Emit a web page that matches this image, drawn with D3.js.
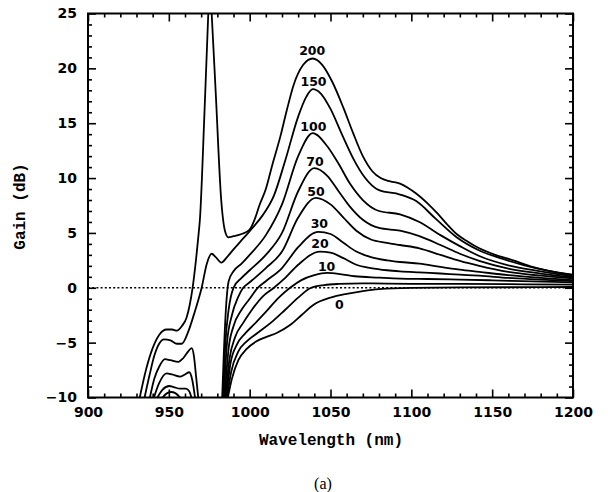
<!DOCTYPE html>
<html>
<head>
<meta charset="utf-8">
<script src="https://cdn.jsdelivr.net/npm/d3@7"></script>
<style>
  html, body { margin: 0; padding: 0; background: #fff; }
  svg { display: block; }
</style>
</head>
<body>
<svg id="chart" width="608" height="492"></svg>
<script>
// ---------------- data ----------------
const xMajorTicks = [900, 950, 1000, 1050, 1100, 1150, 1200];
const yMajorTicks = [-10, -5, 0, 5, 10, 15, 20, 25];
const xDomain = [900, 1200];
const yDomain = [-10, 25];

// gain curves: [wavelength nm, gain dB]; null gain = break in the curve
const curve200 = [[932,-10],[936,-7.4],[940,-5.5],[944,-4.3],[948.7,-3.8],[952,-3.8],[955,-3.9],[958,-3.5],[961,-2.7],[963,-1.5],[964.7,0],[968,4.3],[969.3,6.4],[972,15.8],[974.4,25],[975.3,28.3],[976.5,25],[979,17.8],[982.4,8.0],[984.7,5.2],[986.8,4.6],[990,4.7],[995,4.9],[1000,5.3],[1003,6.2],[1006,7.5],[1010,9.0],[1014,11.2],[1019,13.8],[1023,16.2],[1027,18.4],[1033,20.3],[1039,20.9],[1045,20.3],[1051,18.8],[1058,16.4],[1064,14.1],[1070,12.0],[1076,10.6],[1081,10.0],[1087,9.7],[1093,9.5],[1098,9.1],[1103,8.6],[1110,7.7],[1116,6.8],[1122,5.8],[1128,4.9],[1135,4.2],[1142,3.6],[1152,3.0],[1163,2.5],[1175,1.9],[1185,1.55],[1200,1.2]];
const curve150 = [[935,-10],[938,-8],[941,-6.2],[944,-5.1],[947,-4.7],[951,-4.8],[955,-5.1],[958,-5.1],[962,-4.0],[966,-2.2],[970.3,0],[973.5,2.2],[976.5,3.1],[979,2.8],[982.5,2.3],[986,2.8],[990,3.5],[996,4.5],[1002,5.5],[1008,6.6],[1015,8.4],[1022,11.6],[1030,15.6],[1035,17.4],[1039,18.1],[1044,17.7],[1050,16.3],[1057,14.0],[1064,11.8],[1071,10.1],[1080,8.9],[1093,8.5],[1103,7.9],[1115,6.3],[1128,4.6],[1142,3.4],[1155,2.7],[1170,2.05],[1185,1.55],[1200,1.15]];
const curve100 = [[938.3,-10],[941,-8.3],[944,-7.2],[947.6,-6.5],[951,-6.6],[955.8,-6.75],[959,-6.4],[962,-5.8],[964.1,-5.5],[965.5,-6.2],[966.8,-8],[968.2,-10],[975,null],[983,-10],[984,-6],[985.5,-1.5],[987,0.6],[990,1.5],[995,2.2],[1000,3.0],[1010,4.8],[1020,7.6],[1030,12.0],[1039,14.1],[1048,12.9],[1055,11.3],[1062,9.5],[1070,8.0],[1080,7.0],[1093,6.7],[1105,6.0],[1118,4.8],[1130,3.8],[1142,2.9],[1160,2.05],[1180,1.5],[1200,1.05]];
const curve70 = [[940.8,-10],[944,-8.7],[948.6,-7.8],[952,-7.9],[956.9,-8.1],[960,-7.9],[962.6,-7.7],[964.5,-8.4],[966.2,-10],[975,null],[983.5,-10],[985,-5],[987,-2],[990,0],[995,0.9],[1000,1.6],[1010,3.0],[1020,5.0],[1030,8.8],[1040,10.9],[1048,10.2],[1055,8.8],[1062,7.4],[1070,6.2],[1080,5.45],[1093,5.2],[1105,4.7],[1118,3.9],[1130,3.1],[1142,2.45],[1160,1.75],[1180,1.3],[1200,0.95]];
const curve50 = [[942.9,-10],[946,-9.3],[950.3,-8.95],[953,-9.05],[957,-9.2],[960.5,-9.2],[962.5,-9.4],[964,-10],[975,null],[984,-10],[986,-5],[989,-2.5],[993,-0.8],[996,0],[1000,0.5],[1010,1.8],[1020,3.3],[1030,6.4],[1041,8.2],[1050,7.6],[1058,6.4],[1066,5.2],[1075,4.4],[1085,4.1],[1093,3.9],[1105,3.6],[1118,3.0],[1130,2.45],[1142,2.0],[1160,1.45],[1180,1.1],[1200,0.85]];
const curve30 = [[946,-10],[949,-9.6],[951.5,-9.5],[954,-9.6],[957,-10],[975,null],[984.5,-10],[987,-5.5],[990,-3.5],[995,-2.0],[1000,-1.0],[1005,0],[1010,0.6],[1020,1.8],[1030,3.7],[1042.5,5.1],[1050,4.9],[1058,4.1],[1066,3.3],[1075,2.8],[1085,2.5],[1093,2.35],[1105,2.2],[1118,1.9],[1130,1.65],[1142,1.45],[1160,1.15],[1180,0.9],[1200,0.7]];
const curve20 = [[985,-10],[987.5,-6.5],[991,-4.5],[996,-3.2],[1000,-2.3],[1008,-0.8],[1015,0],[1022,0.9],[1030,2.1],[1043.5,3.3],[1050,3.2],[1058,2.7],[1066,2.1],[1075,1.8],[1085,1.6],[1093,1.5],[1105,1.4],[1118,1.3],[1130,1.2],[1142,1.1],[1160,0.9],[1180,0.75],[1200,0.6]];
const curve10 = [[985.5,-10],[988,-7],[992,-5.2],[997,-4.2],[1003,-3.3],[1010,-2.2],[1018,-0.9],[1025,0],[1032,0.7],[1040,1.15],[1048,1.35],[1056,1.25],[1065,1.05],[1080,0.93],[1093,0.84],[1110,0.8],[1130,0.75],[1150,0.68],[1175,0.58],[1200,0.5]];
const curveUnlabeled = [[986,-10],[988.5,-7.7],[993,-5.8],[998,-4.9],[1005,-4.1],[1013,-3.2],[1022,-2.0],[1030,-0.9],[1038,0],[1046,0.25],[1055,0.35],[1070,0.4],[1085,0.38],[1100,0.36],[1130,0.35],[1160,0.33],[1200,0.28]];
const curve0 = [[986.5,-10],[989,-8.3],[993,-6.6],[998,-5.6],[1004,-4.9],[1010,-4.5],[1017,-4.1],[1025,-3.4],[1032,-2.5],[1040,-1.5],[1050,-0.9],[1060,-0.55],[1070,-0.3],[1080,-0.12],[1100,0],[1130,0.03],[1160,0.05],[1200,0.07]];

const curves = [curve200, curve150, curve100, curve70, curve50, curve30, curve20, curve10, curveUnlabeled, curve0];

// curve labels (pump power) and their anchor points in data units
const labelText = ["200", "150", "100", "70", "50", "30", "20", "10", "0"];
const labelX    = [1038.7, 1039.5, 1039.4, 1040.4, 1041, 1043.1, 1043.5, 1047.6, 1055.4];
const labelY    = [21.6, 18.76, 14.7, 11.5, 8.8, 5.85, 4.03, 1.9, -1.53];

// ---------------- drawing ----------------
const svg = d3.select("#chart");
const L = 88, R = 573, T = 13.5, B = 397.5;

const x = d3.scaleLinear().domain(xDomain).range([L, R]);
const y = d3.scaleLinear().domain(yDomain).range([B, T]);

svg.append("defs").append("clipPath").attr("id", "plotClip")
  .append("rect").attr("x", L).attr("y", T).attr("width", R - L).attr("height", B - T);

// zero reference line (dotted)
svg.append("line")
  .attr("x1", x(xDomain[0])).attr("x2", x(xDomain[1]))
  .attr("y1", y(0)).attr("y2", y(0))
  .attr("stroke", "#000").attr("stroke-width", 1.6)
  .attr("stroke-dasharray", "2,2.2");

const line = d3.line()
  .defined(d => d[1] !== null)
  .x(d => x(d[0])).y(d => y(d[1]))
  .curve(d3.curveMonotoneX);

svg.append("g").attr("clip-path", "url(#plotClip)")
  .selectAll("path").data(curves).join("path")
  .attr("d", line)
  .attr("fill", "none").attr("stroke", "#000")
  .attr("stroke-width", 1.8).attr("stroke-linejoin", "round");

// curve labels
svg.append("g").selectAll("text").data(labelText).join("text")
  .attr("x", (d, i) => x(labelX[i]))
  .attr("y", (d, i) => y(labelY[i]))
  .attr("text-anchor", "middle").attr("dominant-baseline", "central")
  .attr("font-family", "DejaVu Sans").attr("font-weight", "bold")
  .attr("font-size", 12.5).attr("fill", "#000")
  .text(d => d);

// axes
const xMinor = d3.range(xDomain[0], xDomain[1] + 1, 10).filter(v => !xMajorTicks.includes(v));
const yMinor = d3.range(yDomain[0], yDomain[1] + 1, 1).filter(v => !yMajorTicks.includes(v));
const fmt = d3.format("d");

function styleAxis(g) {
  g.select(".domain").remove();
  g.selectAll(".tick line").attr("stroke", "#000").attr("stroke-width", 1.6);
  g.selectAll(".tick text").attr("font-family", "DejaVu Sans").attr("font-weight", "bold")
    .attr("font-size", 14).attr("fill", "#000");
}

// bottom
svg.append("g").attr("transform", `translate(0,${B})`)
  .call(d3.axisBottom(x).tickValues(xMajorTicks).tickFormat(fmt).tickSizeInner(-8).tickSizeOuter(0).tickPadding(9.5))
  .call(styleAxis);
svg.append("g").attr("transform", `translate(0,${B})`)
  .call(d3.axisBottom(x).tickValues(xMinor).tickFormat("").tickSizeInner(-4).tickSizeOuter(0))
  .call(styleAxis);
// top
svg.append("g").attr("transform", `translate(0,${T})`)
  .call(d3.axisTop(x).tickValues(xMajorTicks).tickFormat("").tickSizeInner(-8).tickSizeOuter(0))
  .call(styleAxis);
svg.append("g").attr("transform", `translate(0,${T})`)
  .call(d3.axisTop(x).tickValues(xMinor).tickFormat("").tickSizeInner(-4).tickSizeOuter(0))
  .call(styleAxis);
// left
svg.append("g").attr("transform", `translate(${L},0)`)
  .call(d3.axisLeft(y).tickValues(yMajorTicks).tickFormat(fmt).tickSizeInner(-8).tickSizeOuter(0).tickPadding(11))
  .call(styleAxis);
svg.append("g").attr("transform", `translate(${L},0)`)
  .call(d3.axisLeft(y).tickValues(yMinor).tickFormat("").tickSizeInner(-4).tickSizeOuter(0))
  .call(styleAxis);
// right
svg.append("g").attr("transform", `translate(${R},0)`)
  .call(d3.axisRight(y).tickValues(yMajorTicks).tickFormat("").tickSizeInner(-8).tickSizeOuter(0))
  .call(styleAxis);
svg.append("g").attr("transform", `translate(${R},0)`)
  .call(d3.axisRight(y).tickValues(yMinor).tickFormat("").tickSizeInner(-4).tickSizeOuter(0))
  .call(styleAxis);

// frame
svg.append("rect").attr("x", L).attr("y", T).attr("width", R - L).attr("height", B - T)
  .attr("fill", "none").attr("stroke", "#000").attr("stroke-width", 2);

// titles
svg.append("text").attr("x", (L + R) / 2 + 0.5).attr("y", 445)
  .attr("text-anchor", "middle").attr("font-family", "Liberation Mono").attr("font-weight", "bold")
  .attr("font-size", 16).text("Wavelength (nm)");
svg.append("text").attr("transform", "translate(21,206.5) rotate(-90)")
  .attr("text-anchor", "middle").attr("dominant-baseline", "central")
  .attr("font-family", "Liberation Mono").attr("font-weight", "bold")
  .attr("font-size", 16).text("Gain (dB)");
svg.append("text").attr("x", 323).attr("y", 489)
  .attr("text-anchor", "middle").attr("font-family", "Liberation Serif")
  .attr("font-size", 16).text("(a)");
</script>
</body>
</html>
